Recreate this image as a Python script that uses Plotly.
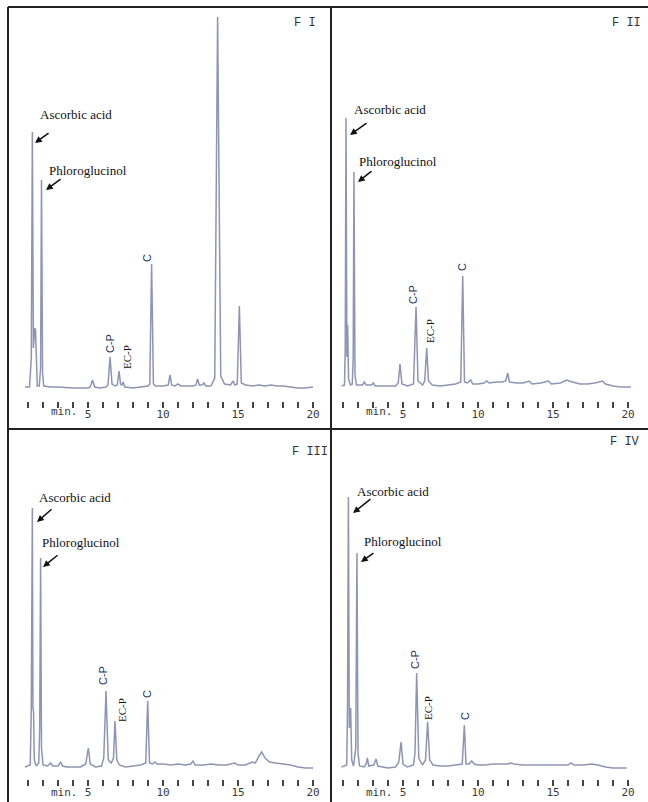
import plotly.graph_objects as go

# ---------------- data ----------------
# retention time (min) and detector signal (arbitrary units above baseline)
fi_time = [0.8, 1.1, 1.22, 1.29, 1.36, 1.45, 1.5, 1.56, 1.62, 1.75, 1.84, 1.9, 1.97, 2.05, 2.5, 3.0, 4.0, 5.0,
           5.15, 5.3, 5.45, 5.8, 6.2, 6.33, 6.47, 6.6, 6.8, 6.95, 7.07, 7.17, 7.25, 7.35, 7.45, 8.0, 8.5, 9.0,
           9.12, 9.24, 9.36, 9.5, 10.0, 10.35, 10.47, 10.58, 10.8, 10.98, 11.2, 12.0, 12.2, 12.3, 12.42, 12.6,
           12.73, 12.85, 13.2, 13.45, 13.64, 13.85, 14.1, 14.5, 14.67, 14.8, 14.95, 15.09, 15.22, 15.5, 16.0,
           16.4, 16.8, 17.2, 17.6, 18.0, 18.5, 19.0, 19.5, 20.0]
fi_signal = [1, 1, 30, 256, 40, 60, 58, 10, 2, 2, 20, 208, 15, 2, 1, 1, 0, 0,
             1, 8, 1, 0, 1, 3, 31, 4, 2, 3, 17, 4, 3, 6, 1, 0, 1, 2,
             4, 124, 4, 2, 2, 3, 13, 3, 2, 4, 2, 2, 3, 9, 3, 3,
             5, 2, 2, 10, 371, 12, 4, 3, 7, 3, 4, 82, 5, 3, 2,
             3, 2, 3, 2, 2, 1, 0, 0, 1]

fii_time = [0.9, 1.1, 1.15, 1.2, 1.26, 1.31, 1.37, 1.5, 1.62, 1.68, 1.73, 1.8, 1.9, 2.3, 2.42, 2.55, 2.9, 3.02,
            3.15, 3.5, 4.0, 4.5, 4.68, 4.8, 4.93, 5.3, 5.7, 5.87, 6.0, 6.3, 6.45, 6.58, 6.7, 6.8, 6.95, 7.5,
            8.0, 8.5, 8.85, 8.98, 9.1, 9.3, 9.51, 9.65, 10.0, 10.4, 10.58, 10.75, 11.2, 11.6, 11.85, 11.98,
            12.1, 12.6, 13.0, 13.42, 13.6, 14.2, 14.69, 14.9, 15.5, 15.9, 16.3, 16.8, 17.3, 17.8, 18.3, 18.5,
            19.0, 19.5, 20.2]
fii_signal = [1, 2, 40, 269, 30, 62, 8, 2, 3, 30, 215, 12, 2, 2, 5, 2, 2, 4,
              1, 1, 1, 1, 4, 23, 3, 1, 3, 80, 6, 2, 6, 39, 6, 4, 2, 1,
              2, 3, 5, 111, 5, 4, 7, 3, 3, 4, 6, 4, 5, 5, 6, 14,
              5, 4, 4, 6, 3, 4, 6, 3, 4, 7, 5, 3, 3, 4, 6, 3,
              1, 0, 0]

fiii_time = [0.8, 1.15, 1.22, 1.29, 1.33, 1.37, 1.42, 1.55, 1.72, 1.78, 1.84, 1.9, 2.0, 2.3, 2.51, 2.65, 3.0,
             3.18, 3.3, 3.6, 4.0, 4.5, 4.85, 5.02, 5.15, 5.5, 5.9, 6.05, 6.2, 6.35, 6.55, 6.7, 6.8, 6.92, 7.1,
             7.5, 8.0, 8.5, 8.85, 8.98, 9.1, 9.3, 9.47, 9.6, 10.0, 10.5, 11.0, 11.5, 11.85, 12.0, 12.15, 12.7,
             13.2, 13.7, 14.2, 14.8, 15.0, 15.5, 15.95, 16.15, 16.4, 16.58, 16.8, 17.1, 17.5, 18.0, 18.5,
             19.0, 19.5, 20.0]
fiii_signal = [1, 3, 60, 260, 60, 56, 8, 2, 5, 40, 210, 20, 3, 2, 5, 2, 2,
               6, 2, 1, 1, 1, 4, 20, 4, 1, 2, 10, 77, 8, 5, 10, 47, 8, 3,
               1, 2, 3, 5, 67, 5, 4, 6, 4, 4, 3, 4, 3, 4, 7, 3, 3,
               4, 3, 3, 5, 3, 3, 6, 5, 12, 16, 10, 6, 5, 4, 3,
               1, 0, 0]

fiv_time = [0.9, 1.25, 1.3, 1.36, 1.42, 1.51, 1.58, 1.7, 1.85, 1.93, 2.0, 2.1, 2.4, 2.55, 2.62, 2.72, 3.05,
            3.2, 3.32, 3.6, 4.0, 4.5, 4.72, 4.87, 5.0, 5.3, 5.7, 5.8, 5.91, 6.05, 6.3, 6.5, 6.64, 6.78, 7.0,
            7.5, 8.0, 8.5, 8.95, 9.09, 9.2, 9.4, 9.58, 9.75, 10.0, 10.5, 11.0, 11.5, 12.0, 12.2, 12.4, 13.0,
            13.5, 14.0, 14.5, 15.0, 15.5, 16.0, 16.2, 16.4, 17.0, 17.6, 18.0, 18.5, 19.0, 19.9]
fiv_signal = [1, 3, 60, 271, 40, 60, 8, 2, 20, 215, 15, 2, 1, 4, 10, 2, 3,
              9, 2, 1, 0, 1, 6, 26, 4, 1, 3, 15, 95, 10, 3, 8, 46, 8, 3,
              2, 2, 3, 4, 43, 4, 4, 7, 4, 3, 3, 4, 4, 4, 5, 4, 3,
              3, 3, 3, 3, 3, 3, 5, 3, 3, 4, 3, 1, 0, 0]

tick_minutes = list(range(1, 21))
tick_labels = [str(m) if m % 5 == 0 else "" for m in tick_minutes]
panel_names = ["F I", "F II", "F III", "F IV"]

# ---------------- layout helpers ----------------
W, H = 648, 802
LINE_COLOR = "#8e94b4"
TEXT_SERIF = "Liberation Serif"
MONO = "DejaVu Sans Mono"


def py(p):
    return 1 - p / H


left_dom = [8 / W, 331 / W]
right_dom = [331 / W, 1.0]
top_dom = [py(429), py(7)]
bot_dom = [0.0, py(429)]

panels = [
    dict(t=fi_time, s=fi_signal, xd=left_dom, yd=top_dom, xr=[-0.333, 21.2], yr=[-41, 381], pos=py(401), unit_y=-24),
    dict(t=fii_time, s=fii_signal, xd=right_dom, yd=top_dom, xr=[0.2, 21.333], yr=[-42, 380], pos=py(401), unit_y=-25),
    dict(t=fiii_time, s=fiii_signal, xd=left_dom, yd=bot_dom, xr=[-0.333, 21.2], yr=[-34, 339], pos=py(779), unit_y=-24),
    dict(t=fiv_time, s=fiv_signal, xd=right_dom, yd=bot_dom, xr=[0.2, 21.333], yr=[-34, 339], pos=py(779), unit_y=-24),
]

fig = go.Figure()
layout = dict(
    width=W, height=H, margin=dict(l=0, r=0, t=0, b=0),
    paper_bgcolor="white", plot_bgcolor="rgba(0,0,0,0)", showlegend=False,
)

for i, p in enumerate(panels):
    n = "" if i == 0 else str(i + 1)
    fig.add_trace(go.Scatter(x=p["t"], y=p["s"], mode="lines",
                             line=dict(color=LINE_COLOR, width=1.5),
                             xaxis="x" + n, yaxis="y" + n, hoverinfo="skip"))
    layout["xaxis" + n] = dict(
        domain=p["xd"], range=p["xr"], anchor="free", position=p["pos"],
        showgrid=False, zeroline=False, showline=False,
        tickmode="array", tickvals=tick_minutes, ticktext=tick_labels,
        ticks="outside", ticklen=6, tickwidth=2, tickcolor="#444",
        tickfont=dict(family=MONO, size=11, color="#3a3a3a"), ticklabelstandoff=-3,
    )
    layout["yaxis" + n] = dict(
        domain=p["yd"], range=p["yr"], anchor="x" + n,
        visible=False, showgrid=False, zeroline=False,
    )

fig.update_layout(**layout)

# ---------------- annotations ----------------
label_pos = [
    dict(asc=(4.2, 273), asc_arrow=((2.47, 256), (1.47, 245)),
         phl=(5.0, 217), phl_arrow=((3.27, 210), (2.2, 198)),
         cp=(6.47, 44), ecp=(7.6, 31), c=(8.93, 130), name=(19.47, 365)),
    dict(asc=(4.13, 277), asc_arrow=((2.67, 265), (1.47, 252)),
         phl=(4.67, 225), phl_arrow=((3.0, 217), (2.0, 205)),
         cp=(5.67, 92), ecp=(6.8, 56), c=(8.93, 120), name=(19.87, 364)),
    dict(asc=(4.13, 271), asc_arrow=((2.67, 260), (1.6, 246)),
         phl=(4.53, 226), phl_arrow=((3.07, 214), (2.0, 201)),
         cp=(6.0, 92), ecp=(7.27, 58), c=(8.93, 74), name=(19.8, 316)),
    dict(asc=(4.33, 277), asc_arrow=((2.93, 270), (1.67, 255)),
         phl=(5.0, 227), phl_arrow=((3.13, 216), (2.2, 206)),
         cp=(5.8, 108), ecp=(6.67, 60), c=(9.13, 52), name=(19.8, 326)),
]

for i, lp in enumerate(label_pos):
    n = "" if i == 0 else str(i + 1)
    xr, yr = "x" + n, "y" + n
    fig.add_annotation(x=lp["asc"][0], y=lp["asc"][1], xref=xr, yref=yr, text="Ascorbic acid",
                       showarrow=False, font=dict(family=TEXT_SERIF, size=13, color="#111"))
    fig.add_annotation(x=lp["phl"][0], y=lp["phl"][1], xref=xr, yref=yr, text="Phloroglucinol",
                       showarrow=False, font=dict(family=TEXT_SERIF, size=13, color="#111"))
    for key in ("asc_arrow", "phl_arrow"):
        (tx, ty), (hx, hy) = lp[key]
        fig.add_annotation(x=hx, y=hy, ax=tx, ay=ty, xref=xr, yref=yr, axref=xr, ayref=yr,
                           text="", showarrow=True, arrowhead=2, arrowsize=0.9,
                           arrowwidth=1.5, arrowcolor="#111")
    fig.add_annotation(x=lp["cp"][0], y=lp["cp"][1], xref=xr, yref=yr, text="C-P", textangle=-90,
                       showarrow=False, font=dict(family="Liberation Sans", size=11, color="#24305e"))
    fig.add_annotation(x=lp["ecp"][0], y=lp["ecp"][1], xref=xr, yref=yr, text="EC-P", textangle=-90,
                       showarrow=False, font=dict(family=TEXT_SERIF, size=11, color="#111"))
    fig.add_annotation(x=lp["c"][0], y=lp["c"][1], xref=xr, yref=yr, text="C", textangle=-90,
                       showarrow=False, font=dict(family="Liberation Sans", size=11, color="#24305e"))
    fig.add_annotation(x=lp["name"][0], y=lp["name"][1], xref=xr, yref=yr, text=panel_names[i],
                       showarrow=False, font=dict(family="Liberation Mono", size=12, color="#333"))
    fig.add_annotation(x=3.4, y=panels[i]["unit_y"], xref=xr, yref=yr,
                       text="min.", showarrow=False,
                       font=dict(family=MONO, size=11, color="#3a3a3a"))

# ---------------- panel frame lines ----------------
frame = dict(color="#222", width=2)
fig.add_shape(type="line", xref="paper", yref="paper", x0=8 / W, x1=8 / W, y0=0, y1=py(7), line=frame)
fig.add_shape(type="line", xref="paper", yref="paper", x0=8 / W, x1=1, y0=py(7), y1=py(7), line=frame)
fig.add_shape(type="line", xref="paper", yref="paper", x0=331 / W, x1=331 / W, y0=0, y1=py(7), line=frame)
fig.add_shape(type="line", xref="paper", yref="paper", x0=8 / W, x1=1, y0=py(429), y1=py(429), line=frame)

fig.write_html("out.html", config={"displayModeBar": False},
               post_script="document.body.style.margin='0px';")
